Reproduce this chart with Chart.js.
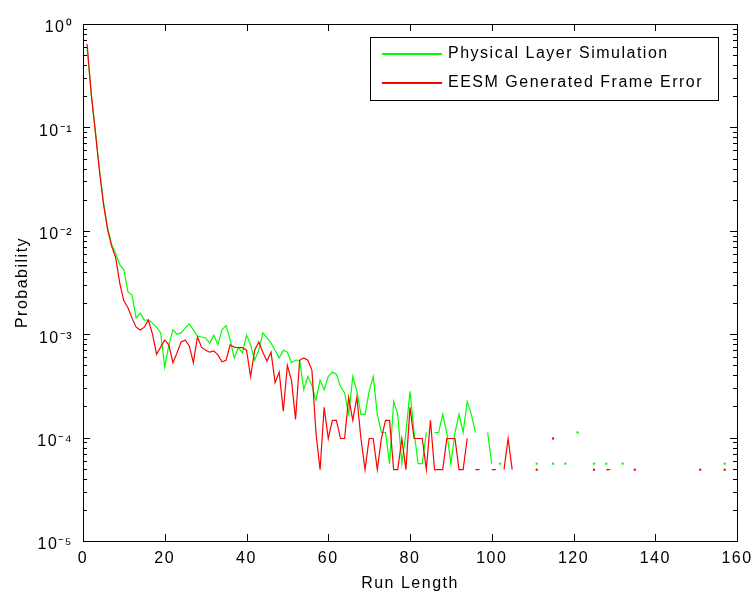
<!DOCTYPE html>
<html>
<head>
<meta charset="utf-8">
<script src="https://cdn.jsdelivr.net/npm/chart.js@4.4.1/dist/chart.umd.min.js"></script>
<style>
  html, body { margin: 0; padding: 0; background: #fff; }
</style>
</head>
<body>
<canvas id="runChart" width="753" height="596"></canvas>
<script>
// run length categories
const runLengths = Array.from({ length: 160 }, (_, i) => i + 1);

// Physical Layer Simulation (green)
const physLayer = [
  0.60, 0.21, 0.095, 0.040, 0.019, 0.0108, 0.0074, 0.0060, 0.0047, 0.0042,
  0.00256, 0.00239, 0.00143, 0.00160, 0.00137, 0.00137, 0.00128, 0.00117, 0.00103, 0.00048,
  0.00079, 0.00110, 0.00100, 0.00103, 0.00115, 0.00126, 0.00110, 0.00096, 0.00094, 0.00092,
  0.00082, 0.00098, 0.00079, 0.00110, 0.00121, 0.00088, 0.00059, 0.00074, 0.00066, 0.00098,
  0.00079, 0.00056, 0.00070, 0.00103, 0.00092, 0.00082, 0.00070, 0.00059, 0.00070, 0.00067,
  0.00053, 0.00056, 0.00056, 0.00029, 0.00039, 0.00032, 0.00023, 0.00036, 0.00029, 0.00039,
  0.00043, 0.00041, 0.00031, 0.00027, 0.000168, 0.00039, 0.00028, 0.000168, 0.000168, 0.00028,
  0.00039, 0.000168, 0.000112, 0.000112, 0.000056, 0.000224, 0.000168, 0.000056, 0.000112, 0.00028,
  0.000112, 0.000056, 0.000056, 0.000112, null, 0.000112, 0.000112, 0.000168, 0.000112, 0.000056,
  0.000112, 0.000168, 0.000112, 0.000224, 0.000168, 0.000112, null, null, 0.000112, 0.000056,
  null, 0.000056, null, null, null, null, null, null, null, null,
  0.000056, null, null, null, 0.000056, null, null, 0.000056, null, null,
  0.000112, null, null, null, 0.000056, null, null, 0.000056, null, null,
  null, 0.000056, null, null, null, null, null, null, null, null,
  null, null, null, null, null, null, null, null, null, null,
  null, null, null, null, null, null, 0.000056, null, null, null
];

// EESM Generated Frame Error (red)
const eesm = [
  0.64, 0.215, 0.092, 0.0387, 0.0182, 0.0104, 0.0071, 0.0055, 0.0031, 0.0021,
  0.0018, 0.00143, 0.00117, 0.00110, 0.00117, 0.00137, 0.00100, 0.00064, 0.00075, 0.00088,
  0.00079, 0.00053, 0.00066, 0.00084, 0.00088, 0.00077, 0.00053, 0.00094, 0.00075, 0.00070,
  0.00067, 0.00069, 0.00063, 0.00054, 0.00056, 0.00079, 0.00075, 0.00074, 0.00074, 0.00070,
  0.00039, 0.00070, 0.00084, 0.00067, 0.00055, 0.00067, 0.00034, 0.00043, 0.00018, 0.00050,
  0.00036, 0.00015, 0.00056, 0.00059, 0.00056, 0.00045, 0.00011, 0.000049, 0.000196, 0.000098,
  0.000147, 0.000147, 0.000098, 0.000098, 0.000245, 0.000147, 0.000245, 0.000098, 0.000049, 0.000098,
  0.000098, 0.000049, 0.000098, 0.000147, 0.000147, 0.000049, 0.000049, 0.000098, 0.000049, 0.000196,
  0.000098, 0.000098, 0.000098, 0.000049, 0.000147, 0.000049, 0.000049, 0.000049, 0.000098, 0.000098,
  0.000098, 0.000049, 0.000049, 0.000098, null, 0.000049, 0.000049, null, null, 0.000049,
  0.000049, null, 0.000049, 0.000098, 0.000049, null, null, null, null, null,
  0.000049, null, null, null, 0.000098, null, null, null, null, null,
  null, null, null, null, 0.000049, null, null, 0.000049, 0.000049, null,
  null, null, null, null, 0.000049, null, null, null, null, null,
  null, null, null, null, null, null, null, null, null, null,
  0.000049, null, null, null, null, null, 0.000049, null, null, null
];

// axis ticks
const xTicks = [0, 20, 40, 60, 80, 100, 120, 140, 160];
const yTicks = [1e-5, 1e-4, 1e-3, 1e-2, 1e-1, 1];
const yTickLabels = ['10\u207B\u2075', '10\u207B\u2074', '10\u207B\u00B3', '10\u207B\u00B2', '10\u207B\u00B9', '10\u2070'];

const seriesNames = ['Physical Layer Simulation', 'EESM Generated Frame Error'];
const seriesColors = ['#00ff00', '#ff0000'];

const FONT = { family: "'Liberation Sans', Arial, sans-serif", size: 16 };

function toPoints(values) {
    return values.map(function (v, i) { return { x: runLengths[i], y: v }; });
}

// lone points (both neighbours empty) show as a small dot, like the reference
function loneDot(ctx) {
    const d = ctx.dataset.data;
    const i = ctx.dataIndex;
    if (d[i].y == null) return 0;
    const prev = i > 0 ? d[i - 1].y : null;
    const next = i < d.length - 1 ? d[i + 1].y : null;
    return (prev == null && next == null) ? 1.2 : 0;
}

// letter spacing to mimic the wide MATLAB text
const spacing = {
    id: 'spacing',
    beforeDraw: function (chart) { chart.ctx.letterSpacing = '1.5px'; }
};

// box and inward ticks, matlab style
const frame = {
    id: 'frame',
    afterDatasetsDraw: function (chart) {
        const ctx = chart.ctx;
        const a = chart.chartArea;
        const xs = chart.scales.x, ys = chart.scales.y;
        ctx.save();
        ctx.strokeStyle = '#000';
        ctx.lineWidth = 1;
        ctx.beginPath();
        xTicks.forEach(function (v) {
            const px = Math.round(xs.getPixelForValue(v)) + 0.5;
            ctx.moveTo(px, a.bottom); ctx.lineTo(px, a.bottom - 7);
            ctx.moveTo(px, a.top); ctx.lineTo(px, a.top + 7);
        });
        for (let e = -5; e < 0; e++) {
            for (let m = 1; m <= 10; m++) {
                const v = m * Math.pow(10, e);
                const py = Math.round(ys.getPixelForValue(v)) + 0.5;
                const len = (m === 1 || m === 10) ? 7 : 4;
                ctx.moveTo(a.left, py); ctx.lineTo(a.left + len, py);
                ctx.moveTo(a.right, py); ctx.lineTo(a.right - len, py);
            }
        }
        ctx.stroke();
        ctx.strokeRect(Math.round(a.left) + 0.5, Math.round(a.top) + 0.5,
            Math.round(a.right - a.left), Math.round(a.bottom - a.top));
        ctx.restore();
    }
};

// legend box in the upper right corner
const legendBox = {
    id: 'legendBox',
    afterDraw: function (chart) {
        const ctx = chart.ctx;
        const a = chart.chartArea;
        const w = 348, h = 63;
        const x0 = Math.round(a.right) - 19 - w, y0 = Math.round(a.top) + 13;
        ctx.save();
        ctx.fillStyle = '#fff';
        ctx.fillRect(x0, y0, w, h);
        ctx.strokeStyle = '#000';
        ctx.lineWidth = 1;
        ctx.strokeRect(x0 + 0.5, y0 + 0.5, w, h);
        ctx.font = FONT.size + 'px ' + FONT.family;
        ctx.textBaseline = 'middle';
        ctx.letterSpacing = '1.5px';
        seriesNames.forEach(function (name, i) {
            const y = y0 + 17 + i * 29;
            ctx.beginPath();
            ctx.strokeStyle = seriesColors[i];
            ctx.lineWidth = 2;
            ctx.moveTo(x0 + 12, y); ctx.lineTo(x0 + 72, y);
            ctx.stroke();
            ctx.fillStyle = '#000';
            ctx.fillText(name, x0 + 78, y);
        });
        ctx.restore();
    }
};

new Chart(document.getElementById('runChart').getContext('2d'), {
    type: 'line',
    data: {
        datasets: [{
            label: seriesNames[0],
            data: toPoints(physLayer),
            borderColor: seriesColors[0],
            backgroundColor: seriesColors[0],
            borderWidth: 1.2,
            pointRadius: loneDot,
            pointBorderWidth: 0,
            pointHitRadius: 0,
            spanGaps: false,
            order: 1,
        }, {
            label: seriesNames[1],
            data: toPoints(eesm),
            borderColor: seriesColors[1],
            backgroundColor: seriesColors[1],
            borderWidth: 1.2,
            pointRadius: loneDot,
            pointBorderWidth: 0,
            pointHitRadius: 0,
            spanGaps: false,
            order: 0,
        }],
    },
    options: {
        responsive: false,
        animation: false,
        layout: { padding: { top: 24, right: 16, left: 0, bottom: 0 } },
        plugins: {
            legend: { display: false },
            tooltip: { enabled: false },
        },
        scales: {
            x: {
                type: 'linear',
                min: 0,
                max: 160,
                afterBuildTicks: function (s) { s.ticks = xTicks.map(function (v) { return { value: v }; }); },
                ticks: { color: '#000', font: FONT, padding: 8, maxRotation: 0, autoSkip: false },
                grid: { display: false, drawTicks: false },
                border: { display: false },
                title: { display: true, text: 'Run Length', color: '#000', font: FONT, padding: { top: 0, bottom: 3 } },
                afterFit: function (s) {
                    s.height = 55;
                    s.paddingLeft = 0;
                    s.paddingRight = 0;
                },
            },
            y: {
                type: 'logarithmic',
                min: 1e-5,
                max: 1,
                afterBuildTicks: function (s) { s.ticks = yTicks.map(function (v) { return { value: v }; }); },
                ticks: {
                    color: '#000',
                    font: FONT,
                    padding: 10,
                    labelOffset: 4,
                    autoSkip: false,
                    callback: function (v) {
                        const i = yTicks.indexOf(v);
                        return i < 0 ? '' : yTickLabels[i];
                    },
                },
                grid: { display: false, drawTicks: false },
                border: { display: false },
                title: { display: true, text: 'Probability', color: '#000', font: FONT, padding: { top: 13, bottom: 0 } },
                afterFit: function (s) {
                    s.width = 83;
                    s.paddingTop = 0;
                    s.paddingBottom = 0;
                },
            },
        },
    },
    plugins: [spacing, frame, legendBox],
});
</script>
</body>
</html>
